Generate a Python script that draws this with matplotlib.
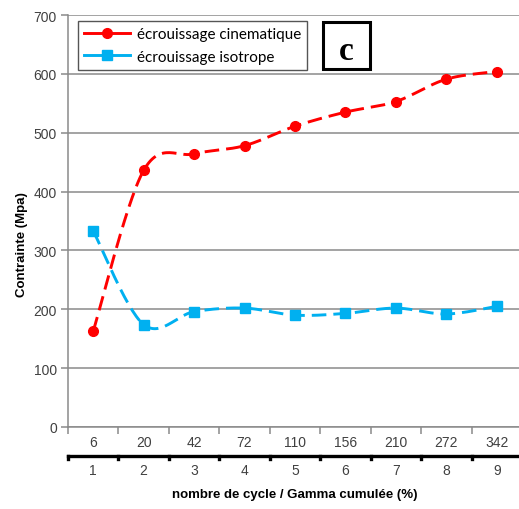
import numpy as np
import matplotlib.pyplot as plt
from matplotlib.transforms import blended_transform_factory
from matplotlib.lines import Line2D
from matplotlib.patches import Rectangle

cycles = ['1', '2', '3', '4', '5', '6', '7', '8', '9']
gamma = ['6', '20', '42', '72', '110', '156', '210', '272', '342']
cinematique = [163, 436, 464, 478, 511, 535, 553, 591, 604]
isotrope = [333, 174, 196, 202, 190, 193, 202, 192, 205]

W, H = 519, 510
fig = plt.figure(figsize=(W / 100, H / 100), dpi=100)
ax = fig.add_axes([68 / W, 82 / H, (522 - 68) / W, 412 / H])


def smooth(xs, ys, n=30):
    xs = np.asarray(xs, float)
    ys = np.asarray(ys, float)
    P = np.column_stack([xs, ys])
    out = []
    for i in range(len(P) - 1):
        p0 = P[i - 1] if i > 0 else P[i]
        p1, p2 = P[i], P[i + 1]
        p3 = P[i + 2] if i + 2 < len(P) else P[i + 1]
        c1 = p1 + (p2 - p0) / 6
        c2 = p2 - (p3 - p1) / 6
        t = np.linspace(0, 1, n)[:, None]
        seg = (1 - t) ** 3 * p1 + 3 * (1 - t) ** 2 * t * c1 + 3 * (1 - t) * t ** 2 * c2 + t ** 3 * p2
        out.append(seg if i == 0 else seg[1:])
    out = np.vstack(out)
    return out[:, 0], out[:, 1]


x = np.arange(len(cycles))
red = '#FF0000'
blue = '#00B0F0'
LW = 2.1
sx, sy = smooth(x, cinematique)
ax.plot(sx, sy, color=red, lw=LW, dashes=(5, 2.4), zorder=3)
ax.plot(x, cinematique, 'o', color=red, ms=7, zorder=4)
sx, sy = smooth(x, isotrope)
ax.plot(sx, sy, color=blue, lw=LW, dashes=(5, 2.4), zorder=3)
ax.plot(x, isotrope, 's', color=blue, ms=7, zorder=4)

ax.set_xlim(-0.5, 8.5)
ax.set_ylim(0, 700)
ax.set_yticks(range(0, 701, 100))
ax.yaxis.grid(True, color='#8a8a8a', lw=1.1)
ax.set_axisbelow(True)
for s in ['top', 'right']:
    ax.spines[s].set_visible(False)
for s in ['left', 'bottom']:
    ax.spines[s].set_color('#8a8a8a')
    ax.spines[s].set_linewidth(1.1)
ax.tick_params(axis='y', colors='#8a8a8a', length=5, width=1.1, labelcolor='#404040', labelsize=10, pad=3)
ax.set_xticks(np.arange(-0.5, 9, 1))
ax.set_xticklabels([])
ax.tick_params(axis='x', colors='#8a8a8a', length=5, width=1.1)
for lab in ax.get_yticklabels():
    lab.set_family('Liberation Sans')

tr = blended_transform_factory(ax.transData, fig.transFigure)
for i, g in enumerate(gamma):
    ax.text(i, (H - 443) / H, g, transform=tr, ha='center', va='center',
            fontsize=10, color='#404040', family='Liberation Sans')
for i, c in enumerate(cycles):
    ax.text(i, (H - 471) / H, c, transform=tr, ha='center', va='center',
            fontsize=10, color='#404040', family='Liberation Sans')
ly = (H - 457) / H
ax.add_line(Line2D([-0.5, 8.5], [ly, ly], transform=tr, color='black', lw=2.4, clip_on=False))
for b in np.arange(-0.5, 9, 1):
    ax.add_line(Line2D([b, b], [ly, ly - 3 / H], transform=tr, color='black', lw=2.4, clip_on=False))

fig.text(295 / W, (H - 495) / H, 'nombre de cycle / Gamma cumulée (%)', ha='center', va='center',
         fontsize=9.5, fontweight='bold', color='black', family='Liberation Sans')
fig.text(22 / W, (H - 245) / H, 'Contrainte (Mpa)', ha='center', va='center', rotation=90,
         fontsize=9.5, fontweight='bold', color='black', family='Liberation Sans')

handles = [Line2D([], [], color=red, lw=LW, marker='o', ms=7),
           Line2D([], [], color=blue, lw=LW, marker='s', ms=7)]
leg = fig.legend(handles, ['écrouissage cinematique', 'écrouissage isotrope'],
                 loc='upper left', bbox_to_anchor=(78 / W, (H - 22) / H),
                 frameon=True, fancybox=False, edgecolor='#555555', framealpha=1,
                 prop={'family': 'Lato', 'size': 11}, handlelength=3.0,
                 borderpad=0.4, labelspacing=0.55, handletextpad=0.45, borderaxespad=0)
leg.get_frame().set_linewidth(1.0)

fig.add_artist(Rectangle((323 / W, (H - 70) / H), 47 / W, 47 / H, transform=fig.transFigure,
                         fc='white', ec='black', lw=2.2, zorder=5))
fig.text(346.5 / W, (H - 51) / H, 'c', ha='center', va='center', fontsize=24, fontweight='bold',
         family='Liberation Serif', zorder=6)

fig.savefig('out.png', dpi=100)
